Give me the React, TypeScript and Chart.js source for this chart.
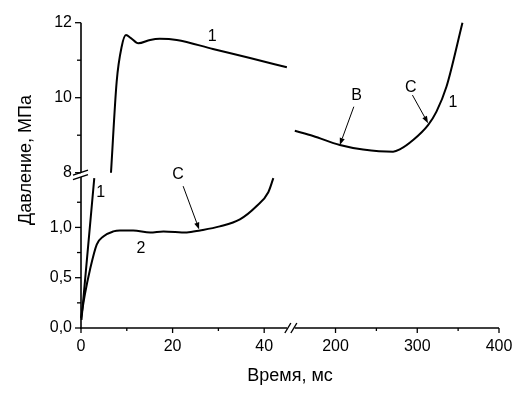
import React, { useEffect, useRef } from "react";
import { Chart, registerables } from "chart.js";

Chart.register(...registerables);

// ---- data (time in ms, pressure in MPa) ----
const curve1StartTime = [0.1, 2.9];
const curve1StartPressure = [0.08, 1.49];

const curve1PeakTime = [6.55, 7.79, 8.88, 9.82, 10.9, 12.5, 15.1, 17.2, 20.9, 28.8, 36.9, 44.95];
const curve1PeakPressure = [8.0, 10.43, 11.36, 11.67, 11.59, 11.45, 11.54, 11.57, 11.54, 11.3, 11.06, 10.81];

const curve1LateTime = [150.2, 172.6, 205.3, 233.7, 270.4, 278.6, 294.9, 313.2, 323.5, 335.7, 355.3];
const curve1LatePressure = [9.12, 8.98, 8.74, 8.62, 8.56, 8.62, 8.87, 9.27, 9.63, 10.29, 12.0];

const curve2Time = [0, 0.87, 1.96, 3.43, 4.87, 7.05, 8.5, 11.4, 15.1, 18.0, 23.1, 26.0, 30.3, 34.7, 38.3, 40.9, 42.0];
const curve2Pressure = [0.1, 0.34, 0.58, 0.83, 0.91, 0.96, 0.97, 0.97, 0.95, 0.96, 0.95, 0.97, 1.01, 1.08, 1.21, 1.35, 1.49];

const xMajorTicks = [0, 20, 40, 200, 300, 400];
const xTickLabels = ["0", "20", "40", "200", "300", "400"];
const xMinorTicks = [10, 30, 250, 350];

const yMajorTicks = [0, 0.5, 1.0, 8, 10, 12];
const yTickLabels = ["0,0", "0,5", "1,0", "8", "10", "12"];
const yMinorTicks = [0.25, 0.75, 1.25, 9, 11];

// axis segments (broken axes)
const xSegments = [[0, 45], [150, 400]];
const ySegments = [[0, 1.5], [8, 12]];

// curve labels and arrows (data units)
const curveLabels = [
  { text: "1", t: 28.65, p: 11.63 },
  { text: "1", t: 4.3, p: 1.35 },
  { text: "2", t: 13.1, p: 0.79 },
  { text: "С", t: 21.2, p: 1.52 },
  { text: "В", t: 225.7, p: 10.05 },
  { text: "С", t: 292.1, p: 10.28 },
  { text: "1", t: 343.8, p: 9.87 },
];
const arrows = [
  { t0: 22.3, p0: 1.41, t1: 25.8, p1: 0.98 },
  { t0: 222.4, p0: 9.76, t1: 205.3, p1: 8.74 },
  { t0: 294.1, p0: 10.07, t1: 313.2, p1: 9.32 },
];

const xTitle = "Время, мс";
const yTitle = "Давление, МПа";

// ---- broken-axis mapping to a continuous internal coordinate ----
function xMap(t: number): number {
  return t <= 100 ? t * 4.583 : 213.8 + (t - 150) * 0.818;
}
function yMap(p: number): number {
  return p <= 4 ? p * 100.6 : 155.3 + (p - 8) * 37.5;
}

const FONT = "'Liberation Sans', Arial, Helvetica, sans-serif";

function toPoints(ts: number[], ps: number[]) {
  return ts.map((t, i) => ({ x: xMap(t), y: yMap(ps[i]) }));
}

const brokenAxesPlugin = {
  id: "brokenAxes",
  afterDraw(chart: any) {
    const { ctx, chartArea: a } = chart;
    const xs = chart.scales.x;
    const ys = chart.scales.y;
    const X = (t: number) => xs.getPixelForValue(xMap(t));
    const Y = (p: number) => ys.getPixelForValue(yMap(p));
    const line = (x0: number, y0: number, x1: number, y1: number) => {
      ctx.beginPath();
      ctx.moveTo(x0, y0);
      ctx.lineTo(x1, y1);
      ctx.stroke();
    };
    ctx.save();
    ctx.strokeStyle = "#000";
    ctx.fillStyle = "#000";
    ctx.lineWidth = 1.6;
    ctx.lineCap = "butt";
    const left = a.left;
    const bottom = a.bottom;
    // axis lines
    ySegments.forEach(([p0, p1]) => line(left, Y(p0) + (p0 === 0 ? 0.8 : 0), left, Y(p1)));
    xSegments.forEach(([t0, t1]) => line(X(t0) - (t0 === 0 ? 0.8 : 0), bottom, X(t1), bottom));
    // ticks
    ctx.lineWidth = 1.3;
    yMajorTicks.forEach((p) => line(left - 6, Y(p), left, Y(p)));
    yMinorTicks.forEach((p) => line(left - 4, Y(p), left, Y(p)));
    xMajorTicks.forEach((t) => line(X(t), bottom, X(t), bottom + 5));
    xMinorTicks.forEach((t) => line(X(t), bottom, X(t), bottom + 3));
    // break marks
    ctx.lineWidth = 1.4;
    const ym = (Y(ySegments[0][1]) + Y(ySegments[1][0])) / 2;
    [-2.2, 2.2].forEach((d) => line(left - 8, ym + d + 2.5, left + 7, ym + d - 2.5));
    const xm = (X(xSegments[0][1]) + X(xSegments[1][0])) / 2;
    [-3, 3].forEach((d) => line(xm + d - 3, bottom + 5, xm + d + 3, bottom - 5));

    // curve labels
    ctx.font = `16px ${FONT}`;
    ctx.textAlign = "center";
    ctx.textBaseline = "middle";
    curveLabels.forEach((l) => ctx.fillText(l.text, X(l.t), Y(l.p)));

    // arrows
    ctx.lineWidth = 1;
    arrows.forEach((ar) => {
      const x0 = X(ar.t0), y0 = Y(ar.p0), x1 = X(ar.t1), y1 = Y(ar.p1);
      const ang = Math.atan2(y1 - y0, x1 - x0);
      const len = 7, hw = 2.6;
      const bx = x1 - len * Math.cos(ang), by = y1 - len * Math.sin(ang);
      line(x0, y0, bx, by);
      ctx.beginPath();
      ctx.moveTo(x1, y1);
      ctx.lineTo(bx + hw * Math.sin(ang), by - hw * Math.cos(ang));
      ctx.lineTo(bx - hw * Math.sin(ang), by + hw * Math.cos(ang));
      ctx.closePath();
      ctx.fill();
    });

    // y axis title
    ctx.save();
    ctx.translate(26, 160);
    ctx.rotate(-Math.PI / 2);
    ctx.font = `18px ${FONT}`;
    ctx.textAlign = "center";
    ctx.textBaseline = "middle";
    ctx.fillText(yTitle, 0, 0);
    ctx.restore();

    ctx.restore();
  },
};

export default function App() {
  const canvasRef = useRef<HTMLCanvasElement | null>(null);

  useEffect(() => {
    if (!canvasRef.current) return;
    const lineStyle = {
      borderColor: "#000",
      borderWidth: 2,
      pointRadius: 0,
      fill: false,
      cubicInterpolationMode: "monotone" as const,
      clip: false as any,
    };
    const chart = new Chart(canvasRef.current, {
      type: "line",
      data: {
        datasets: [
          { ...lineStyle, label: "1a", data: toPoints(curve1StartTime, curve1StartPressure) },
          { ...lineStyle, label: "1b", data: toPoints(curve1PeakTime, curve1PeakPressure) },
          { ...lineStyle, label: "1c", data: toPoints(curve1LateTime, curve1LatePressure) },
          { ...lineStyle, label: "2", data: toPoints(curve2Time, curve2Pressure) },
        ],
      },
      options: {
        animation: false,
        responsive: false,
        devicePixelRatio: 1,
        events: [],
        layout: { padding: { left: 0, top: 22.7, right: 31, bottom: 0 } },
        plugins: { legend: { display: false }, tooltip: { enabled: false } },
        scales: {
          x: {
            type: "linear",
            min: 0,
            max: xMap(400),
            grid: { display: false, drawTicks: false },
            border: { display: false },
            afterBuildTicks: (scale: any) => {
              scale.ticks = xMajorTicks.map((t) => ({ value: xMap(t) }));
            },
            afterFit: (scale: any) => {
              scale.height = 67;
            },
            ticks: {
              autoSkip: false,
              maxRotation: 0,
              padding: 9,
              color: "#000",
              font: { family: FONT, size: 16 },
              callback: (_v: any, i: number) => xTickLabels[i],
            },
            title: {
              display: true,
              text: xTitle,
              color: "#000",
              font: { family: FONT, size: 18 },
              padding: { top: 0, bottom: 7.8 },
            },
          },
          y: {
            type: "linear",
            min: 0,
            max: yMap(12),
            grid: { display: false, drawTicks: false },
            border: { display: false },
            afterBuildTicks: (scale: any) => {
              scale.ticks = yMajorTicks.map((p) => ({ value: yMap(p) }));
            },
            afterFit: (scale: any) => {
              scale.width = 81;
            },
            ticks: {
              autoSkip: false,
              padding: 9,
              color: "#000",
              font: { family: FONT, size: 16 },
              callback: (_v: any, i: number) => yTickLabels[i],
            },
          },
        },
      },
      plugins: [brokenAxesPlugin],
    });
    return () => chart.destroy();
  }, []);

  return (
    <div style={{ position: "fixed", left: 0, top: 0, width: 530, height: 395, background: "#fff" }}>
      <canvas ref={canvasRef} width={530} height={395} style={{ display: "block" }} />
    </div>
  );
}
